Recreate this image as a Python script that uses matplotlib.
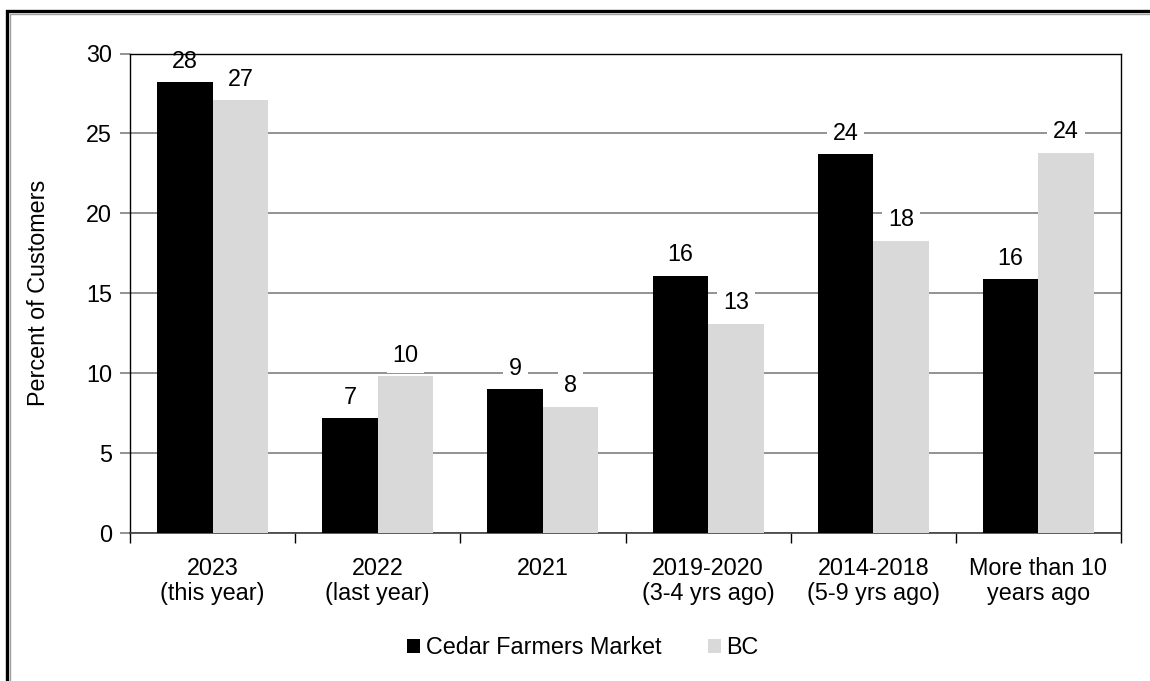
import numpy as np
import matplotlib.pyplot as plt
from matplotlib.patches import Rectangle

plt.rcParams['font.family'] = ['Liberation Sans', 'DejaVu Sans']

categories = ["2023\n(this year)", "2022\n(last year)", "2021",
              "2019-2020\n(3-4 yrs ago)", "2014-2018\n(5-9 yrs ago)",
              "More than 10\nyears ago"]
cedar = [28.2, 7.2, 9.0, 16.1, 23.7, 15.9]
bc = [27.1, 9.8, 7.9, 13.1, 18.3, 23.8]
cedar_labels = ["28", "7", "9", "16", "24", "16"]
bc_labels = ["27", "10", "8", "13", "18", "24"]
series_names = ["Cedar Farmers Market", "BC"]

W, H = 1150, 681
FS = 16.8
fig = plt.figure(figsize=(W / 100, H / 100), dpi=100)

# outer frame (only top and left edges visible in the crop)
fig.patches.append(Rectangle((7 / W, -0.1), 1.2, 1 - 11 / H + 0.1,
                             transform=fig.transFigure, fill=False,
                             edgecolor='black', linewidth=2.4))
fig.patches.append(Rectangle((9.5 / W, -0.1), 1.2, 1 - 13.5 / H + 0.1,
                             transform=fig.transFigure, fill=False,
                             edgecolor='#a0a0a0', linewidth=1.0))

ax = fig.add_axes([130 / W, 1 - 533 / H, (1121 - 130) / W, (533 - 53.5) / H])

x = np.arange(len(categories))
w = 0.336
b1 = ax.bar(x - w / 2, cedar, w, color='black', label=series_names[0], zorder=3)
b2 = ax.bar(x + w / 2, bc, w, color='#d9d9d9', label=series_names[1], zorder=3)

for rects, labs in ((b1, cedar_labels), (b2, bc_labels)):
    for r, lab in zip(rects, labs):
        ax.annotate(lab, (r.get_x() + r.get_width() / 2, r.get_height()),
                    xytext=(0, 15), textcoords='offset points',
                    ha='center', va='center', fontsize=FS, zorder=2.5,
                    bbox=dict(boxstyle='square,pad=0.25', fc='white', ec='none'))

ax.set_xlim(-0.5, len(categories) - 0.5)
ax.set_ylim(0, 30)
ax.set_yticks(range(0, 31, 5))
ax.yaxis.grid(True, color='#808080', linewidth=1.2, zorder=0)
ax.set_axisbelow(True)
ax.tick_params(axis='y', labelsize=FS, length=7, color='#808080', width=1.2, pad=6)

ax.set_xticks(np.arange(-0.5, len(categories), 1.0))
ax.set_xticklabels([])
ax.tick_params(axis='x', which='major', length=7, color='black', width=1)
ax.set_xticks(x, minor=True)
ax.set_xticklabels(categories, minor=True, fontsize=FS, linespacing=1.15)
ax.tick_params(axis='x', which='minor', length=0, pad=17)

for s in ['left', 'right', 'top']:
    ax.spines[s].set_color('black')
    ax.spines[s].set_linewidth(1)
ax.spines['bottom'].set_color('#404040')
ax.spines['bottom'].set_linewidth(1.2)

ax.set_ylabel("Percent of Customers", fontsize=FS, labelpad=26)

fig.legend(handles=[b1, b2], labels=series_names, loc='center',
           bbox_to_anchor=(583 / W, 1 - 648 / H), ncol=2, frameon=False,
           fontsize=FS, handlelength=0.55, handleheight=0.55,
           handletextpad=0.25, columnspacing=2.0)

fig.savefig('out.png', dpi=100)
